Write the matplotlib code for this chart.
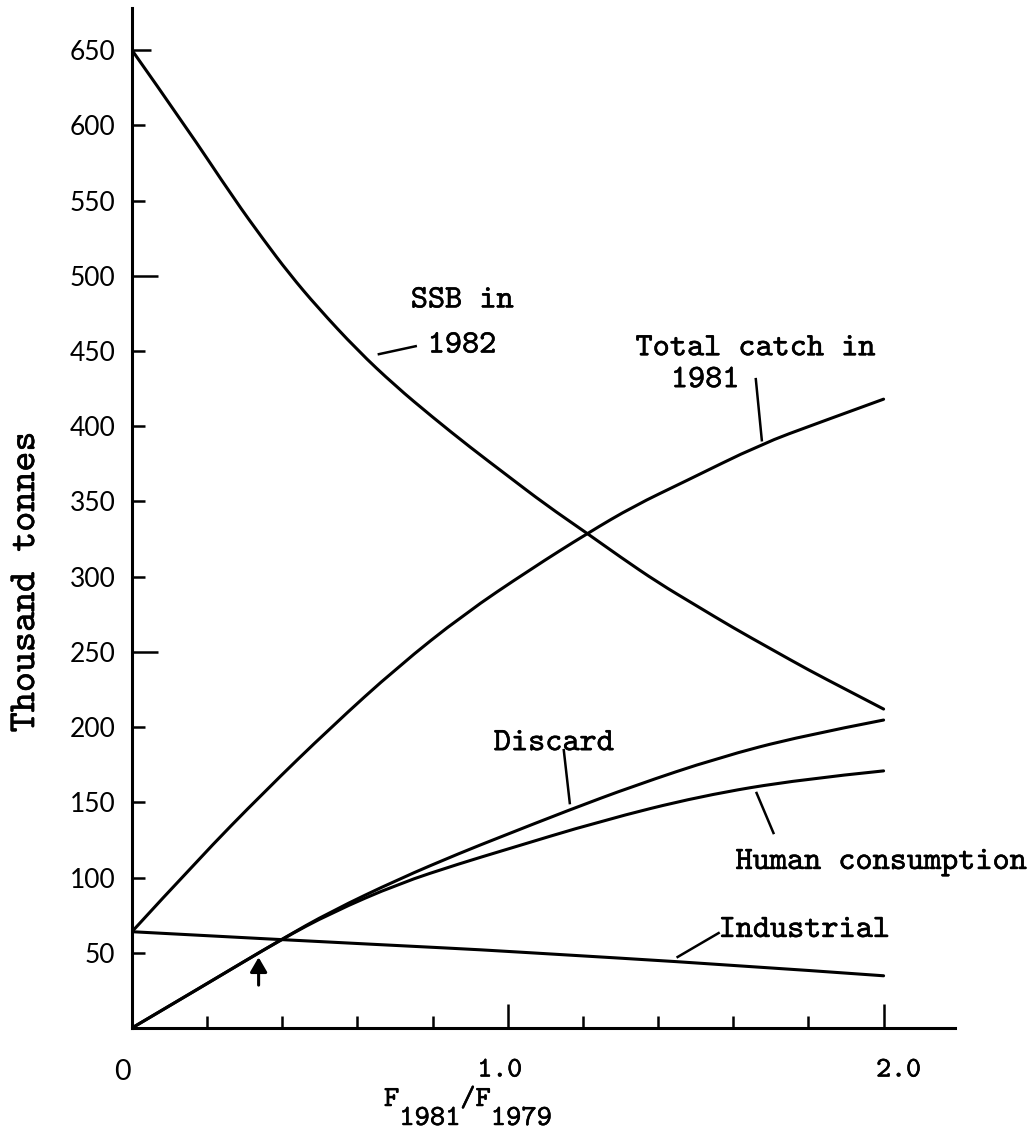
import matplotlib
matplotlib.use('Agg')
import matplotlib.pyplot as plt
import matplotlib.patheffects as pe
from matplotlib.path import Path
from matplotlib.patches import PathPatch
from matplotlib.transforms import ScaledTranslation

plt.rcParams['font.family'] = ['cmtt10', 'DejaVu Sans']

# values (thousand tonnes against F1981/F1979)
ssb_x = [0.0, 0.144, 0.272, 0.35, 0.418, 0.494, 0.6, 0.7, 0.8, 0.9, 1.0, 1.1, 1.21, 1.3, 1.4, 1.5, 1.6, 1.7, 1.8, 1.9, 2.0]
ssb_y = [650, 599, 551, 524, 501.5, 479, 450.5, 427, 406, 386, 367, 348, 329, 313, 296, 281, 266, 252, 238, 225, 212]

catch_x = [0.0, 0.176, 0.352, 0.53, 0.707, 0.883, 1.061, 1.213, 1.336, 1.469, 1.673, 1.824, 2.0]
catch_y = [64, 112, 157, 200, 240, 275, 305, 329, 347, 363, 388, 402, 418]

discard_x = [0.0, 0.2, 0.396, 0.53, 0.71, 0.875, 0.981, 1.159, 1.336, 1.558, 1.779, 2.0]
discard_y = [0, 29.5, 58.7, 77.5, 99, 116.5, 127, 144.5, 161, 179.5, 194, 204.7]

human_x = [0.0, 0.2, 0.396, 0.53, 0.71, 0.875, 0.981, 1.247, 1.513, 1.779, 2.0]
human_y = [0, 29.5, 58.7, 76.5, 96, 109.5, 117.5, 137.6, 154.2, 165.3, 170.9]

industrial_x = [0.0, 0.396, 0.875, 0.981, 1.593, 2.0]
industrial_y = [64, 58.7, 52.7, 51.2, 42, 34.7]

y_ticks = [50, 100, 150, 200, 250, 300, 350, 400, 450, 500, 550, 600, 650]
x_ticks = [0, 1, 2]
x_tick_labels = ['0', '1.0', '2.0']
x_minor = [0.2, 0.4, 0.6, 0.8, 1.2, 1.4, 1.6, 1.8]


def smooth_path(xs, ys):
    # read points used as quadratic control points, curve passes through the midpoints
    pts = list(zip(xs, ys))
    verts = [pts[0]]
    codes = [Path.MOVETO]
    for i in range(1, len(pts) - 1):
        if i == len(pts) - 2:
            end = pts[i + 1]
        else:
            end = ((pts[i][0] + pts[i + 1][0]) / 2, (pts[i][1] + pts[i + 1][1]) / 2)
        verts += [pts[i], end]
        codes += [Path.CURVE3, Path.CURVE3]
    return Path(verts, codes)


fig = plt.figure(figsize=(10.35, 11.45), dpi=100)
ax = fig.add_axes([0.1275, 0.1022, 0.7952, 0.8908])

lw = 2.2
for xs, ys in [(ssb_x, ssb_y), (catch_x, catch_y), (discard_x, discard_y),
               (human_x, human_y), (industrial_x, industrial_y)]:
    ax.add_patch(PathPatch(smooth_path(xs, ys), facecolor='none', edgecolor='black',
                           lw=lw, capstyle='round', joinstyle='round'))

ax.set_xlim(0, 2.19)
ax.set_ylim(0, 678)
for s in ['top', 'right']:
    ax.spines[s].set_visible(False)
for s in ['left', 'bottom']:
    ax.spines[s].set_linewidth(lw)

ax.set_yticks(y_ticks, [str(v) for v in y_ticks])
ax.set_xticks(x_ticks, x_tick_labels)
ax.set_xticks(x_minor, minor=True)
ax.tick_params(axis='x', which='major', direction='in', length=17, width=1.8,
               pad=22, labelsize=20.5)
ax.tick_params(axis='x', which='minor', direction='in', length=8.6, width=1.8)
ax.tick_params(axis='y', direction='in', length=9, width=1.8, pad=12, labelsize=19)

for tick in ax.yaxis.get_major_ticks():
    if tick.get_loc() in (250, 500):
        tick.tick1line.set_markersize(19)
    elif tick.get_loc() == 650:
        tick.tick1line.set_markersize(14)
for lab in ax.get_yticklabels():
    lab.set_fontfamily('Lato')

bold = [pe.withStroke(linewidth=0.35, foreground='black')]

xlabs = ax.get_xticklabels()
xlabs[0].set_fontfamily('Lato')
for lab, dx in zip(xlabs, [-10, -8, 15]):
    lab.set_transform(lab.get_transform() + ScaledTranslation(dx / 100, 0, fig.dpi_scale_trans))
for lab in xlabs[1:]:
    lab.set_path_effects(bold)

ax.set_ylabel('Thousand tonnes', fontsize=27.5, path_effects=bold)
ax.yaxis.set_label_coords(-0.108, 0.437)

fs = 23.5
xfs = 21

# x axis title F1981/F1979, years typed lower than the F's
t1 = fig.text(384 / 1035, 1 - 1113 / 1145, 'F', fontsize=xfs, va='bottom', path_effects=bold)
t2 = ax.annotate('1981', xy=(1, 0), xycoords=t1, xytext=(0, -19), textcoords='offset pixels',
                 fontsize=xfs, va='bottom', path_effects=bold, annotation_clip=False)
t3 = ax.annotate('/F', xy=(1, 0), xycoords=t2, xytext=(0, 19), textcoords='offset pixels',
                 fontsize=xfs, va='bottom', path_effects=bold, annotation_clip=False)
ax.annotate('1979', xy=(1, 0), xycoords=t3, xytext=(0, -19), textcoords='offset pixels',
            fontsize=xfs, va='bottom', path_effects=bold, annotation_clip=False)

ax.text(0.742, 479, 'SSB in', fontsize=fs, va='baseline', path_effects=bold)
ax.text(0.787, 449, '1982', fontsize=fs, va='baseline', path_effects=bold)
ax.plot([0.657, 0.755], [447.9, 453.2], color='black', lw=1.8)

ax.text(1.340, 447.2, 'Total catch in', fontsize=fs, va='baseline', path_effects=bold)
ax.text(1.434, 426, '1981', fontsize=fs, va='baseline', path_effects=bold)
ax.plot([1.66, 1.676], [431.3, 390.7], color='black', lw=1.8)

ax.text(0.963, 184.7, 'Discard', fontsize=fs, va='baseline', path_effects=bold)
ax.plot([1.149, 1.165], [184.7, 149.5], color='black', lw=1.8)

ax.text(1.606, 105.7, 'Human consumption', fontsize=fs, va='baseline', path_effects=bold)
ax.plot([1.662, 1.707], [156.2, 129.6], color='black', lw=1.8)

ax.text(1.561, 60.5, 'Industrial', fontsize=fs, va='baseline', path_effects=bold)
ax.plot([1.452, 1.561], [47.2, 63.1], color='black', lw=1.8)

ax.annotate('', xy=(0.337, 47), xytext=(0.337, 28.5),
            arrowprops=dict(arrowstyle='-|>,head_length=0.55,head_width=0.32',
                            lw=2.2, color='black', mutation_scale=16, shrinkA=0, shrinkB=0))

fig.savefig('out.png', dpi=100)
